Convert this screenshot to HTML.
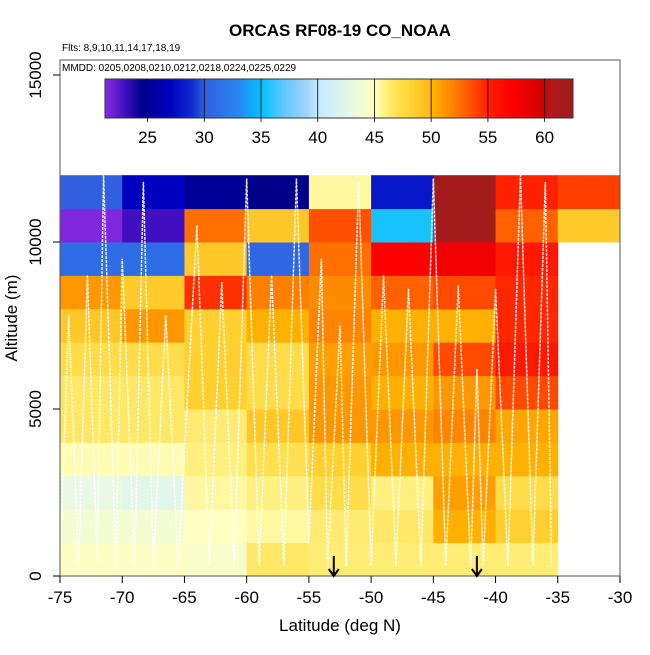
<!DOCTYPE html>
<html><head><meta charset="utf-8"><style>
body{margin:0;background:#fff;font-family:"Liberation Sans",sans-serif}
svg text{font-family:"Liberation Sans",sans-serif}
</style></head><body>
<svg id="c" width="650" height="650" xmlns="http://www.w3.org/2000/svg">
<text x="340" y="36" text-anchor="middle" font-size="17" font-weight="bold">ORCAS RF08-19 CO_NOAA</text>
<text x="62" y="51" font-size="10">Flts: 8,9,10,11,14,17,18,19</text>
<g id="cells"></g>
<g id="tracks"></g>
<g id="axes"></g>
<text x="62" y="71" font-size="10">MMDD: 0205,0208,0210,0212,0218,0224,0225,0229</text>
<g id="cbar"></g>
<text x="340" y="631" text-anchor="middle" font-size="17">Latitude (deg N)</text>
<text transform="translate(17,318) rotate(-90)" text-anchor="middle" font-size="17">Altitude (m)</text>
</svg>
<script>
const latBins=[-75,-70,-65,-60,-55,-50,-45,-40,-35];
const altBins=[0,1000,2000,3000,4000,5000,6000,7000,8000,9000,10000,11000];
// values[row] rows from 0-1k upward, columns by latBins
const values=[
[44.8,44.8,44.5,46.5,46.2,46.2,46.2,46.2,null],
[44,44,45,45.5,46.3,46.5,50.2,48.5,null],
[43,42.5,45.5,46,47.3,46,50.8,47.3,null],
[45.2,45.2,46,47,48.5,50.2,50.2,50.2,null],
[46.5,46.5,46.3,49,51,51,51.8,50.5,null],
[46.5,46.5,48.5,47.3,51,50.2,51,53.7,null],
[47.3,47.3,48.5,47.3,50.8,51,53.7,55.5,null],
[49,51,48.5,50.2,51.8,50.2,50.2,54.8,null],
[51,48.8,54.5,52,51.5,53,53.7,54.8,null],
[31,31,49,30.5,52.5,57,58,55.5,null],
[21.5,23,52.5,49,53.5,35.5,62,53,48.8],
[30,27,25,24.5,45.5,28,62,55,54]
];
const xTicks=[-75,-70,-65,-60,-55,-50,-45,-40,-35,-30];
const yTicks=[0,5000,10000,15000];
const cbTicks=[25,30,35,40,45,50,55,60];
const arrowLats=[-53,-41.5];
const trackLat=[-75,-74.3,-73.5,-72.8,-72,-71.5,-70.5,-70,-69,-68.3,-67.5,-66.5,-65.5,-64,-63,-62,-61,-60,-59,-58,-57,-56,-55,-54,-53.5,-52.5,-52,-51,-50,-49,-48,-47,-46,-45,-44,-43,-42,-41.5,-41,-40,-39,-38,-37,-36,-35.5];
const trackAlt=[300,7800,300,9000,400,12000,300,9500,300,11800,300,7800,300,10500,300,8800,300,11900,300,9000,300,11900,1000,9500,300,7500,300,11800,300,9000,300,8600,300,11900,300,8700,300,6200,300,8600,300,12000,300,11800,300];
const cmap=[[21.3,'#8a2be2'],[23,'#4010c0'],[24.5,'#00008b'],[27,'#0000c0'],[29,'#1030d0'],[30,'#3060e0'],[33,'#2a86f0'],[35,'#00c0ff'],[37,'#60c8ff'],[39,'#a0d4f8'],[40,'#c4eaff'],[43,'#e8f8e4'],[45,'#ffffc0'],[46,'#fff080'],[47,'#ffe050'],[48.5,'#ffd030'],[49.5,'#ffc020'],[50.2,'#ffb000'],[51,'#ff9800'],[52,'#ff8000'],[53,'#ff6000'],[54,'#ff4000'],[55,'#ff2000'],[57,'#ff0000'],[58.5,'#e80000'],[60,'#d00000'],[60.5,'#b01818'],[62.5,'#a01c1c']];
function hex(h){return [1,3,5].map(i=>parseInt(h.substr(i,2),16));}
function color(v){
 if(v<=cmap[0][0])return cmap[0][1];
 for(let i=1;i<cmap.length;i++){if(v<=cmap[i][0]){const a=cmap[i-1],b=cmap[i];const t=(v-a[0])/(b[0]-a[0]);const ca=hex(a[1]),cb=hex(b[1]);return 'rgb('+ca.map((c,k)=>Math.round(c+(cb[k]-c)*t)).join(',')+')';}}
 return cmap[cmap.length-1][1];
}
const X=v=>60+(v+75)*560/45;
const Y=a=>576-a*501/15000;
const NS='http://www.w3.org/2000/svg';
function mk(t,at,p){const e=document.createElementNS(NS,t);for(const k in at)e.setAttribute(k,at[k]);p.appendChild(e);return e;}
const cells=document.getElementById('cells');
values.forEach((row,r)=>row.forEach((v,c)=>{
 if(v==null)return;
 const e=mk('rect',{x:X(latBins[c]),y:Y(altBins[r]+1000),width:X(latBins[c]+5)-X(latBins[c])+0.5,height:Y(altBins[r])-Y(altBins[r]+1000)+0.5,fill:color(v)},cells);
 
 
}));
const tr=document.getElementById('tracks');
const tp=mk('polyline',{points:trackLat.map((l,i)=>X(l)+','+Y(trackAlt[i])).join(' '),fill:'none',stroke:'#fff','stroke-width':1.5,'stroke-dasharray':'3,1',opacity:0.9},tr);


const ax=document.getElementById('axes');
const box=mk('rect',{x:60,y:60,width:560,height:516,fill:'none',stroke:'#555','stroke-width':1},ax);


xTicks.forEach(t=>{
 mk('line',{x1:X(t),x2:X(t),y1:576,y2:583,stroke:'#000'},ax);
 const e=mk('text',{x:X(t),y:603,'text-anchor':'middle','font-size':17},ax);e.textContent=t;
 
 
});
yTicks.forEach(t=>{
 mk('line',{x1:53,x2:60,y1:Y(t),y2:Y(t),stroke:'#000'},ax);
 const e=mk('text',{transform:'translate(41,'+Y(t)+') rotate(-90)','text-anchor':'middle','font-size':17},ax);e.textContent=t;
 
 
});
arrowLats.forEach(l=>{
 const g=mk('g',{stroke:'#000','stroke-width':2,fill:'none'},ax);
 
 
 mk('line',{x1:X(l),x2:X(l),y1:556,y2:576},g);
 mk('polyline',{points:(X(l)-5)+',569 '+X(l)+',576 '+(X(l)+5)+',569'},g);
});
const cb=document.getElementById('cbar');
const cmin=21.25,cmax=62.5,cx0=105,cx1=573;
const CX=v=>cx0+(v-cmin)*(cx1-cx0)/(cmax-cmin);
for(let x=cx0;x<cx1;x+=1){const v=cmin+(x-cx0+0.5)*(cmax-cmin)/(cx1-cx0);mk('rect',{x:x,y:79,width:1.3,height:39,fill:color(v)},cb);}
mk('rect',{x:cx0,y:79,width:cx1-cx0,height:39,fill:'none',stroke:'#333'},cb);
cbTicks.forEach(t=>{
 mk('line',{x1:CX(t),x2:CX(t),y1:79,y2:122,stroke:'#000','stroke-width':0.8},cb);
 const e=mk('text',{x:CX(t),y:143,'text-anchor':'middle','font-size':17},cb);e.textContent=t;
 
 
});
</script>
</body></html>
